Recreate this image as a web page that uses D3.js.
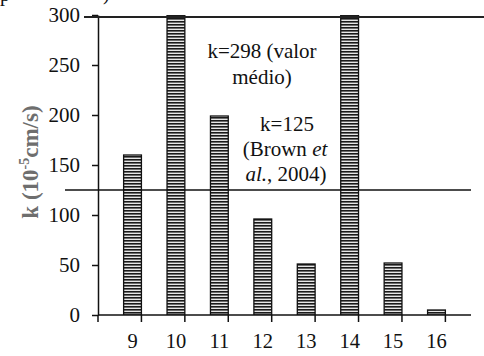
<!DOCTYPE html>
<html>
<head>
<meta charset="utf-8">
<script src="https://cdn.jsdelivr.net/npm/d3@7"></script>
<style>
  html, body { margin: 0; padding: 0; background: #fff; }
  svg { display: block; }
</style>
</head>
<body>
<script>
// Permeability k (10^-5 cm/s) per sample
const categories = ["9", "10", "11", "12", "13", "14", "15", "16"];
const kValues = [160, 900, 199, 96, 51, 922, 52, 5];
const yTicks = [0, 50, 100, 150, 200, 250, 300];
const meanK = 298;
const brownK = 125;

const SERIF = "'Liberation Serif', 'Times New Roman', 'DejaVu Serif', serif";
const W = 484, H = 356;
const margin = { top: 15, right: 13, bottom: 41, left: 98 };
const iw = W - margin.left - margin.right;
const ih = H - margin.top - margin.bottom;

const svg = d3.select("body").append("svg")
  .attr("width", W).attr("height", H)
  .attr("font-family", SERIF);

// Horizontal hatch used by the bars
const defs = svg.append("defs");
const pat = defs.append("pattern")
  .attr("id", "hatch").attr("patternUnits", "userSpaceOnUse")
  .attr("width", 6).attr("height", 3);
pat.append("rect").attr("width", 6).attr("height", 3).attr("fill", "#e6e6e6");
pat.append("rect").attr("y", 0).attr("width", 6).attr("height", 1.6).attr("fill", "#1a1a1a");

defs.append("clipPath").attr("id", "plotclip")
  .append("rect").attr("x", 0).attr("y", 0).attr("width", iw).attr("height", ih);

const g = svg.append("g").attr("transform", `translate(${margin.left},${margin.top})`);

const x = d3.scaleBand().domain(categories).range([0, iw]).padding(0.59);
const y = d3.scaleLinear().domain([0, 300]).range([ih, 0]);

// Bars (values above 300 run off the top of the plot)
g.append("g").attr("clip-path", "url(#plotclip)")
  .selectAll("rect").data(categories).join("rect")
  .attr("x", d => x(d))
  .attr("width", x.bandwidth())
  .attr("y", (d, i) => y(Math.min(kValues[i], 301)))
  .attr("height", (d, i) => y(0) - y(Math.min(kValues[i], 301)))
  .attr("fill", "url(#hatch)")
  .attr("stroke", "#111").attr("stroke-width", 1.3);

// Y axis
const yAxis = g.append("g")
  .call(d3.axisLeft(y).tickValues(yTicks).tickSize(6).tickPadding(12).tickSizeOuter(0));
yAxis.attr("font-family", SERIF).attr("font-size", 21);
yAxis.select(".domain").attr("stroke", "#111").attr("stroke-width", 1.5);
yAxis.selectAll(".tick line").attr("stroke", "#111").attr("stroke-width", 1.5);
yAxis.selectAll(".tick text").attr("fill", "#111");

// X axis with ticks between categories
const step = x.step();
const xAxis = g.append("g").attr("transform", `translate(0,${ih})`);
xAxis.append("line").attr("x1", 0).attr("x2", iw).attr("y1", 0).attr("y2", 0)
  .attr("stroke", "#111").attr("stroke-width", 1.5);
xAxis.selectAll("line.tk").data(d3.range(categories.length + 1)).join("line")
  .attr("class", "tk")
  .attr("x1", i => i * step).attr("x2", i => i * step)
  .attr("y1", 0).attr("y2", 7)
  .attr("stroke", "#111").attr("stroke-width", 1.5);
xAxis.selectAll("text").data(categories).join("text")
  .attr("x", d => x(d) + x.bandwidth() / 2)
  .attr("y", 33)
  .attr("text-anchor", "middle")
  .attr("font-size", 20.5).attr("fill", "#111")
  .text(d => d);

// Reference lines
svg.append("line")
  .attr("x1", 84).attr("x2", W)
  .attr("y1", margin.top + y(meanK)).attr("y2", margin.top + y(meanK))
  .attr("stroke", "#222").attr("stroke-width", 2);
svg.append("line")
  .attr("x1", 65).attr("x2", margin.left + iw)
  .attr("y1", margin.top + y(brownK)).attr("y2", margin.top + y(brownK))
  .attr("stroke", "#111").attr("stroke-width", 1.5);

// Annotations
const ann = svg.append("g").attr("font-size", 21).attr("text-anchor", "middle").attr("fill", "#111");
ann.append("text").attr("x", 262).attr("y", 58).text("k=" + meanK + " (valor");
ann.append("text").attr("x", 262).attr("y", 84).text("médio)");
ann.append("text").attr("x", 287).attr("y", 131).text("k=" + brownK);
const t2 = ann.append("text").attr("x", 285).attr("y", 156);
t2.append("tspan").text("(Brown ");
t2.append("tspan").attr("font-style", "italic").text("et");
const t3 = ann.append("text").attr("x", 286).attr("y", 181);
t3.append("tspan").attr("font-style", "italic").text("al.");
t3.append("tspan").text(", 2004)");

// Y axis title
const yt = svg.append("text")
  .attr("transform", "translate(38,162) rotate(-90)")
  .attr("text-anchor", "middle")
  .attr("font-size", 23).attr("font-weight", "bold")
  .attr("fill", "#6e6e6e");
yt.append("tspan").text("k (10");
yt.append("tspan").attr("font-size", 14).attr("dy", -9).text("-5");
yt.append("tspan").attr("dy", 9).text("cm/s)");

// Fragment of the heading above the plot
svg.append("text").attr("x", 0).attr("y", 1).attr("font-size", 20).attr("fill", "#111").text("p");
svg.append("text").attr("x", 103).attr("y", 0).attr("font-size", 20).attr("fill", "#111").text(")");
</script>
</body>
</html>
